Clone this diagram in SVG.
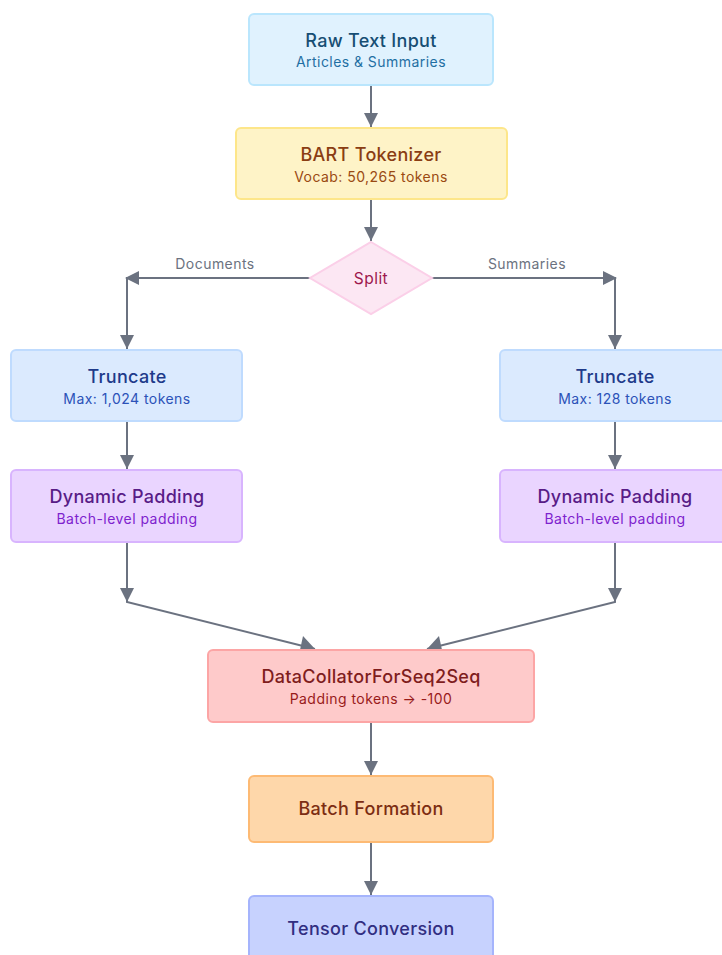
<svg xmlns="http://www.w3.org/2000/svg" width="722" height="955" viewBox="0 0 722 955">
<defs>
<style>
.t{font-family:Inter,"Liberation Sans",sans-serif;font-size:18px;font-weight:500;letter-spacing:0.3px;text-anchor:middle}
.s{font-family:Inter,"Liberation Sans",sans-serif;font-size:14px;letter-spacing:0.45px;text-anchor:middle}
.l{font-family:Inter,"Liberation Sans",sans-serif;font-size:14px;letter-spacing:0.45px;fill:#6b7280;text-anchor:middle}
.e{fill:none;stroke:#6b7280;stroke-width:2}
.a{fill:#6b7280}
rect{stroke-width:2}
</style>
</defs>
<rect width="722" height="955" fill="#ffffff"/>
<g id="edges">
<path class="e" d="M371,86 L371,127"/>
<polygon class="a" points="364,113 378,113 371,127"/>
<path class="e" d="M371,200 L371,241"/>
<polygon class="a" points="364,227 378,227 371,241"/>
<path class="e" d="M310,278 L127,278 L127,349"/>
<polygon class="a" points="125,278 139,271 139,285"/>
<polygon class="a" points="120,335 134,335 127,349"/>
<path class="e" d="M432,278 L615,278 L615,349"/>
<polygon class="a" points="617,278 603,271 603,285"/>
<polygon class="a" points="608,335 622,335 615,349"/>
<path class="e" d="M127,422 L127,469"/>
<polygon class="a" points="120,455 134,455 127,469"/>
<path class="e" d="M615,422 L615,469"/>
<polygon class="a" points="608,455 622,455 615,469"/>
<path class="e" d="M127,543 L127,602 L315,649"/>
<polygon class="a" points="120,588 134,588 127,602"/>
<path class="e" d="M615,543 L615,602 L427,649"/>
<polygon class="a" points="608,588 622,588 615,602"/>
<polygon class="a" points="315,649 300,650 303,636"/>
<polygon class="a" points="427,649 439,636 442,650"/>
<path class="e" d="M371,723 L371,775"/>
<polygon class="a" points="364,761 378,761 371,775"/>
<path class="e" d="M371,843 L371,895"/>
<polygon class="a" points="364,881 378,881 371,895"/>
<text class="l" x="215" y="269">Documents</text>
<text class="l" x="527" y="269">Summaries</text>
</g>
<g id="raw">
<rect x="249" y="14" width="244" height="71" rx="5" fill="#e0f2fe" stroke="#bae6fd"/>
<text class="t" x="371" y="47" fill="#164e73">Raw Text Input</text>
<text class="s" x="371" y="67" fill="#1f6fa3">Articles &amp; Summaries</text>
</g>
<g id="bart">
<rect x="236" y="128" width="271" height="71" rx="5" fill="#fef3c7" stroke="#fde68a"/>
<text class="t" x="371" y="161" fill="#8a3d13">BART Tokenizer</text>
<text class="s" x="371" y="182" fill="#9a4a12">Vocab: 50,265 tokens</text>
</g>
<g id="split">
<polygon points="371,242 432,278 371,314 310,278" fill="#fce7f3" stroke="#fbcfe8" stroke-width="2"/>
<text class="s" x="371" y="284" fill="#9d174d" style="font-size:15.5px">Split</text>
</g>
<g id="truncL">
<rect x="11" y="350" width="231" height="71" rx="5" fill="#dbeafe" stroke="#bfdbfe"/>
<text class="t" x="127" y="383" fill="#1e3a8a">Truncate</text>
<text class="s" x="127" y="404" fill="#2b52b8">Max: 1,024 tokens</text>
</g>
<g id="truncR">
<rect x="500" y="350" width="231" height="71" rx="5" fill="#dbeafe" stroke="#bfdbfe"/>
<text class="t" x="615" y="383" fill="#1e3a8a">Truncate</text>
<text class="s" x="615" y="404" fill="#2b52b8">Max: 128 tokens</text>
</g>
<g id="padL">
<rect x="11" y="470" width="231" height="72" rx="5" fill="#ead5ff" stroke="#d8b4fe"/>
<text class="t" x="127" y="503" fill="#581c87">Dynamic Padding</text>
<text class="s" x="127" y="524" fill="#7e22ce">Batch-level padding</text>
</g>
<g id="padR">
<rect x="500" y="470" width="231" height="72" rx="5" fill="#ead5ff" stroke="#d8b4fe"/>
<text class="t" x="615" y="503" fill="#581c87">Dynamic Padding</text>
<text class="s" x="615" y="524" fill="#7e22ce">Batch-level padding</text>
</g>
<g id="collator">
<rect x="208" y="650" width="326" height="72" rx="5" fill="#fecaca" stroke="#fca5a5"/>
<text class="t" x="371" y="683" fill="#7f1d1d">DataCollatorForSeq2Seq</text>
<text class="s" x="371" y="704" fill="#991b1b">Padding tokens → -100</text>
</g>
<g id="batch">
<rect x="249" y="776" width="244" height="66" rx="5" fill="#fed7aa" stroke="#fdba74"/>
<text class="t" x="371" y="815" fill="#7c2d12">Batch Formation</text>
</g>
<g id="tensor">
<rect x="249" y="896" width="244" height="70" rx="5" fill="#c7d2fe" stroke="#a5b4fc"/>
<text class="t" x="371" y="935" fill="#312e81">Tensor Conversion</text>
</g>
</svg>
